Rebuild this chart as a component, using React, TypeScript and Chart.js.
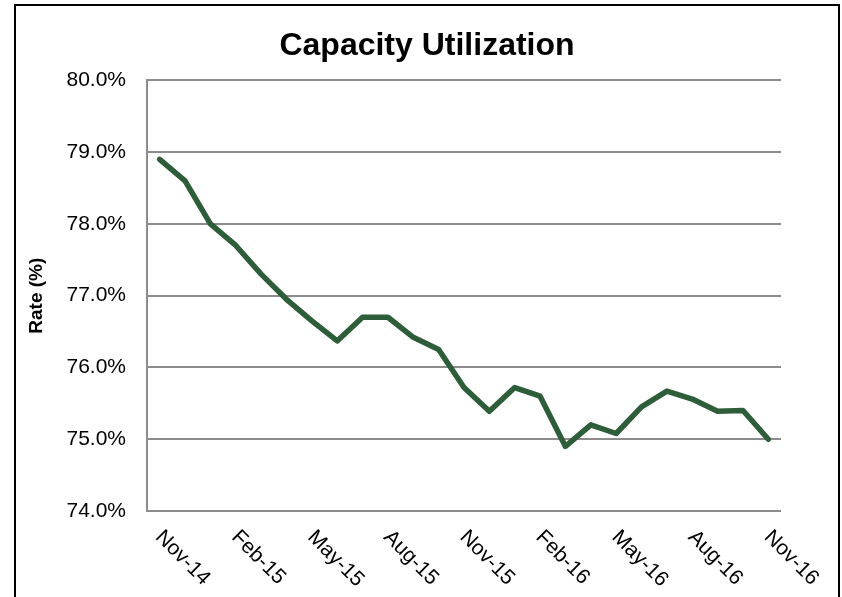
import React, { useEffect, useRef } from "react";
import { Chart, registerables } from "chart.js";

Chart.register(...registerables);

const months: string[] = [
  "Nov-14", "Dec-14", "Jan-15", "Feb-15", "Mar-15", "Apr-15", "May-15",
  "Jun-15", "Jul-15", "Aug-15", "Sep-15", "Oct-15", "Nov-15", "Dec-15",
  "Jan-16", "Feb-16", "Mar-16", "Apr-16", "May-16", "Jun-16", "Jul-16",
  "Aug-16", "Sep-16", "Oct-16", "Nov-16",
];

const rates: number[] = [
  78.9, 78.6, 78.0, 77.7, 77.3, 76.95, 76.65, 76.37, 76.7, 76.7, 76.42, 76.25,
  75.72, 75.39, 75.72, 75.6, 74.9, 75.2, 75.08, 75.45, 75.67, 75.56, 75.39,
  75.4, 75.0,
];

const shownLabelStep = 3;
const yMin = 74;
const yMax = 80;
const yStep = 1;

const FONT = '"Liberation Sans", Arial, Helvetica, sans-serif';
const GRID = "#8c8c8c";
const LINE = "#2e5d39";

const xLabelPlugin = {
  id: "xLabelsRotated",
  afterDraw(chart: any) {
    const { ctx, chartArea, scales } = chart;
    const xs = scales.x;
    ctx.save();
    ctx.font = `21px ${FONT}`;
    ctx.fillStyle = "#000";
    ctx.textAlign = "left";
    ctx.textBaseline = "middle";
    months.forEach((m, i) => {
      if (i % shownLabelStep !== 0) return;
      const x = xs.getPixelForValue(i);
      ctx.save();
      ctx.translate(x - 1, chartArea.bottom + 23);
      ctx.rotate(Math.PI / 4);
      ctx.fillText(m, 0, 0);
      ctx.restore();
    });
    ctx.restore();
  },
};

export default function App() {
  const canvasRef = useRef<HTMLCanvasElement | null>(null);

  useEffect(() => {
    if (!canvasRef.current) return;
    const chart = new Chart(canvasRef.current, {
      type: "line",
      data: {
        labels: months,
        datasets: [
          {
            label: "Capacity Utilization",
            data: rates,
            borderColor: LINE,
            backgroundColor: LINE,
            borderWidth: 5.5,
            pointRadius: 0,
            tension: 0,
            borderCapStyle: "round",
            borderJoinStyle: "round",
          },
        ],
      },
      options: {
        animation: false,
        responsive: false,
        devicePixelRatio: 1,
        layout: { padding: 0 },
        plugins: {
          legend: { display: false },
          tooltip: { enabled: false },
          title: {
            display: true,
            text: "Capacity Utilization",
            color: "#000",
            font: { family: FONT, size: 32, weight: "bold" },
            padding: { top: 21, bottom: 15 },
          },
        },
        scales: {
          x: {
            type: "category",
            offset: true,
            grid: { display: false, drawTicks: false },
            border: { display: false },
            ticks: { display: false },
            afterFit: (s: any) => {
              s.height = 86;
            },
          },
          y: {
            min: yMin,
            max: yMax,
            grid: { color: GRID, lineWidth: 2, drawTicks: false },
            border: { display: true, color: GRID, width: 2 },
            ticks: {
              stepSize: yStep,
              padding: 21,
              color: "#000",
              font: { family: FONT, size: 21 },
              callback: (v: any) => Number(v).toFixed(1) + "%",
            },
            title: {
              display: true,
              text: "Rate (%)",
              color: "#000",
              font: { family: FONT, size: 19, weight: "bold" },
              padding: { top: 9, bottom: 0 },
            },
            afterFit: (s: any) => {
              s.width = 131;
            },
          },
          yRightSpace: {
            type: "linear",
            position: "right",
            display: true,
            grid: { display: false, drawTicks: false },
            border: { display: false },
            ticks: { display: false },
            afterFit: (s: any) => {
              s.width = 57;
            },
          },
        },
      },
      plugins: [xLabelPlugin],
    });
    return () => chart.destroy();
  }, []);

  return (
    <div
      style={{
        position: "fixed",
        left: 14,
        top: 4,
        width: 826,
        height: 700,
        border: "2px solid #000",
        boxSizing: "border-box",
        background: "#fff",
      }}
    >
      <canvas ref={canvasRef} width={822} height={591} style={{ display: "block" }} />
    </div>
  );
}
